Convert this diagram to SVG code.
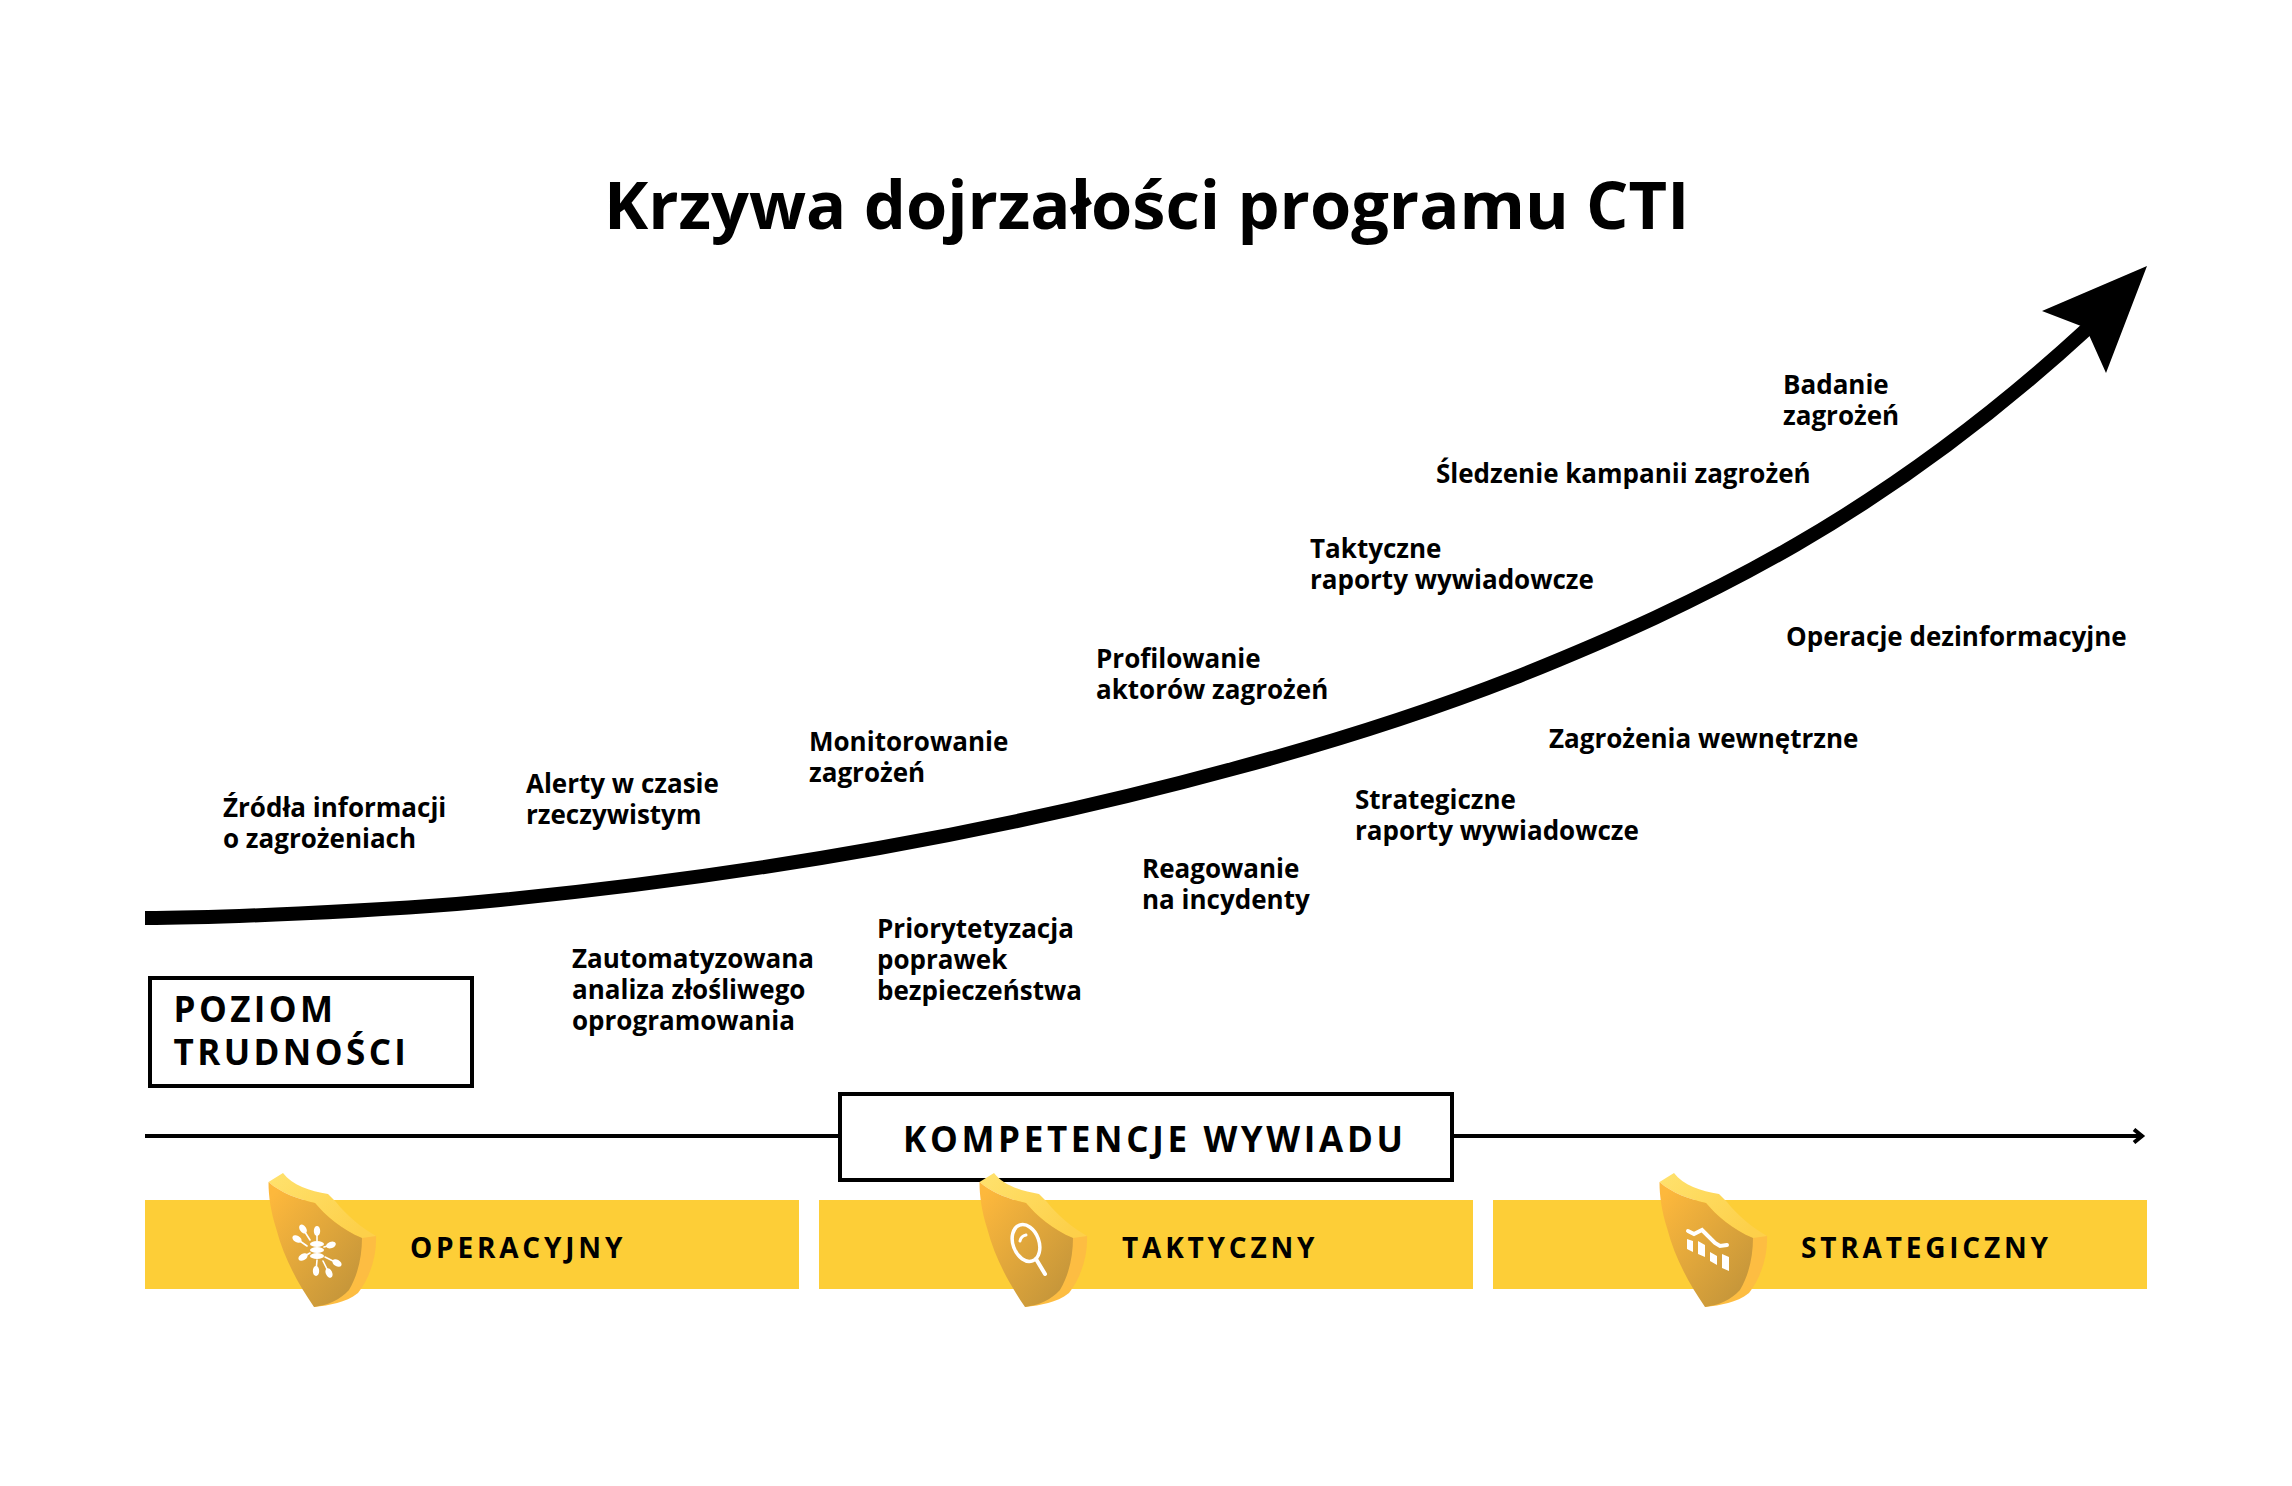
<svg xmlns="http://www.w3.org/2000/svg" width="2292" height="1486" viewBox="0 0 2292 1486">
<style>
text{font-family:"Open Sans","Noto Sans","Liberation Sans",sans-serif;fill:#000}
.t{font-size:66.7px;font-weight:700}
.l{font-size:26px;font-weight:700}
.b{font-size:28px;font-weight:700;letter-spacing:3.8px}
.h{font-size:35px;font-weight:700;letter-spacing:3.4px}
.k{letter-spacing:3.65px}
.box{fill:#fff;stroke:#000;stroke-width:4}
.band{fill:#FDCE37}
.ic{fill:#fff}
.ils{fill:none;stroke:#fff;stroke-linecap:round}
</style>
<defs>
<linearGradient id="front" x1="0.1" y1="0.05" x2="0.9" y2="0.9"><stop offset="0" stop-color="#FDB83C"/><stop offset="1" stop-color="#C4953A"/></linearGradient>
<linearGradient id="rim" x1="0" y1="0" x2="1" y2="0.6"><stop offset="0" stop-color="#FFE26E"/><stop offset="1" stop-color="#FDD04A"/></linearGradient>
<g id="shield">
<path fill="#FDBD42" d="M340 1220L376 1236C377 1255 370 1278 358 1293C345 1303 330 1305 314 1307Z"/>
<path fill="url(#rim)" d="M268.500 1182L283 1173C292 1185 310 1191 328 1194L336 1202C347 1216 362 1228 376 1236L362 1238C342 1230 325 1215 315 1203C298 1199 281 1193 268.500 1182Z"/>
<path fill="url(#front)" d="M268.500 1182C281 1193 298 1199 315 1203C325 1215 342 1230 362 1238C362 1256 358 1275 349 1290C340 1300 328 1305 314 1307C297 1282 284 1258 276 1228C271 1212 268.500 1197 268.500 1182Z"/>
</g>
<marker id="open" viewBox="0 0 14 16" refX="11" refY="8" markerWidth="14" markerHeight="16" markerUnits="userSpaceOnUse" orient="auto"><path d="M2 1.5L10 8L2 14.5" fill="none" stroke="#000" stroke-width="4"/></marker>
</defs>
<rect width="2292" height="1486" fill="#fff"/>
<text class="t" x="604" y="229">Krzywa dojrzałości programu CTI</text>
<g id="connectors">
<path id="curve-main" d="M145 918C204 918 378 912 500 900C622 888 756 870 879 848C1002 826 1130 797 1236 768C1342 739.5 1427 712 1514 678C1704 602 1885 515 2088 328" fill="none" stroke="#000" stroke-width="14"/>
<path id="curve-head" d="M2147 266L2042 311L2081 326L2089 335L2106 373Z" fill="#000"/>
<path id="axis" d="M145 1136H2143" fill="none" stroke="#000" stroke-width="4" marker-end="url(#open)"/>
</g>
<g id="labels-upper">
<g id="n1"><text class="l" x="223" y="817">Źródła informacji</text><text class="l" x="223" y="848">o zagrożeniach</text></g>
<g id="n2"><text class="l" x="526" y="793">Alerty w czasie</text><text class="l" x="526" y="824">rzeczywistym</text></g>
<g id="n3"><text class="l" x="809" y="751">Monitorowanie</text><text class="l" x="809" y="782">zagrożeń</text></g>
<g id="n4"><text class="l" x="1096" y="668">Profilowanie</text><text class="l" x="1096" y="699">aktorów zagrożeń</text></g>
<g id="n5"><text class="l" x="1310" y="558">Taktyczne</text><text class="l" x="1310" y="589">raporty wywiadowcze</text></g>
<g id="n6"><text class="l" x="1436" y="483">Śledzenie kampanii zagrożeń</text></g>
<g id="n7"><text class="l" x="1783" y="394">Badanie</text><text class="l" x="1783" y="425">zagrożeń</text></g>
</g>
<g id="labels-lower">
<g id="n8"><text class="l" x="572" y="968">Zautomatyzowana</text><text class="l" x="572" y="999">analiza złośliwego</text><text class="l" x="572" y="1030">oprogramowania</text></g>
<g id="n9"><text class="l" x="877" y="938">Priorytetyzacja</text><text class="l" x="877" y="969">poprawek</text><text class="l" x="877" y="1000">bezpieczeństwa</text></g>
<g id="n10"><text class="l" x="1142" y="878">Reagowanie</text><text class="l" x="1142" y="909">na incydenty</text></g>
<g id="n11"><text class="l" x="1355" y="809">Strategiczne</text><text class="l" x="1355" y="840">raporty wywiadowcze</text></g>
<g id="n12"><text class="l" x="1549" y="748">Zagrożenia wewnętrzne</text></g>
<g id="n13"><text class="l" x="1786" y="646">Operacje dezinformacyjne</text></g>
</g>
<g id="poziom"><rect class="box" x="150" y="978" width="322" height="108"/><text class="h" x="173.5" y="1022">POZIOM</text><text class="h" x="173.5" y="1065">TRUDNOŚCI</text></g>
<g id="kompetencje"><rect class="box" x="840" y="1094" width="612" height="86"/><text class="h k" x="903" y="1152">KOMPETENCJE WYWIADU</text></g>
<g id="operacyjny">
<rect class="band" x="145" y="1200" width="654" height="89"/>
<use href="#shield"/>
<path class="ils" stroke-width="1.6" d="M303 1229L310 1240M317 1231L317 1241M297 1239L307 1246M331 1245L324 1247M303 1257L310 1253M337 1263L325 1257M316 1271L317 1260M329 1273L323 1261"/>
<g class="ic">
<ellipse cx="317" cy="1244" rx="7" ry="3"/><ellipse cx="317" cy="1250" rx="7" ry="3"/><ellipse cx="317" cy="1256" rx="7" ry="3"/>
<ellipse cx="303" cy="1229" rx="3.2" ry="5" transform="rotate(-35 303 1229)"/><ellipse cx="317" cy="1231" rx="3.2" ry="5"/><ellipse cx="297" cy="1239" rx="5" ry="3.2" transform="rotate(30 297 1239)"/><ellipse cx="331" cy="1245" rx="5" ry="3.2" transform="rotate(-20 331 1245)"/><ellipse cx="303" cy="1257" rx="5" ry="3.2" transform="rotate(-30 303 1257)"/><ellipse cx="337" cy="1263" rx="5" ry="3.2" transform="rotate(30 337 1263)"/><ellipse cx="316" cy="1271" rx="3.2" ry="5"/><ellipse cx="329" cy="1273" rx="3.2" ry="5" transform="rotate(-25 329 1273)"/>
</g>
<text class="b" x="410" y="1258">OPERACYJNY</text>
</g>
<g id="taktyczny">
<rect class="band" x="819" y="1200" width="654" height="89"/>
<use href="#shield" x="711"/>
<ellipse cx="1026" cy="1243" rx="13" ry="19" transform="rotate(-20 1026 1243)" fill="none" stroke="#fff" stroke-width="3.5"/>
<path class="ils" stroke-width="4" d="M1036 1259L1045 1274"/>
<path class="ils" stroke-width="3" d="M1020 1241Q1021 1236 1026 1235"/>
<text class="b" x="1122" y="1258">TAKTYCZNY</text>
</g>
<g id="strategiczny">
<rect class="band" x="1493" y="1200" width="654" height="89"/>
<use href="#shield" x="1391"/>
<path class="ils" stroke-width="4" d="M1688 1231L1694 1234L1702 1230L1715 1243L1720 1246L1727 1245"/>
<path class="ic" d="M1687 1239L1693 1241V1252L1687 1249ZM1698 1241L1705 1245V1257L1698 1254ZM1710 1252L1717 1256V1265L1710 1261ZM1722 1254L1729 1257V1271L1722 1268Z"/>
<text class="b" x="1801" y="1258">STRATEGICZNY</text>
</g>
</svg>
